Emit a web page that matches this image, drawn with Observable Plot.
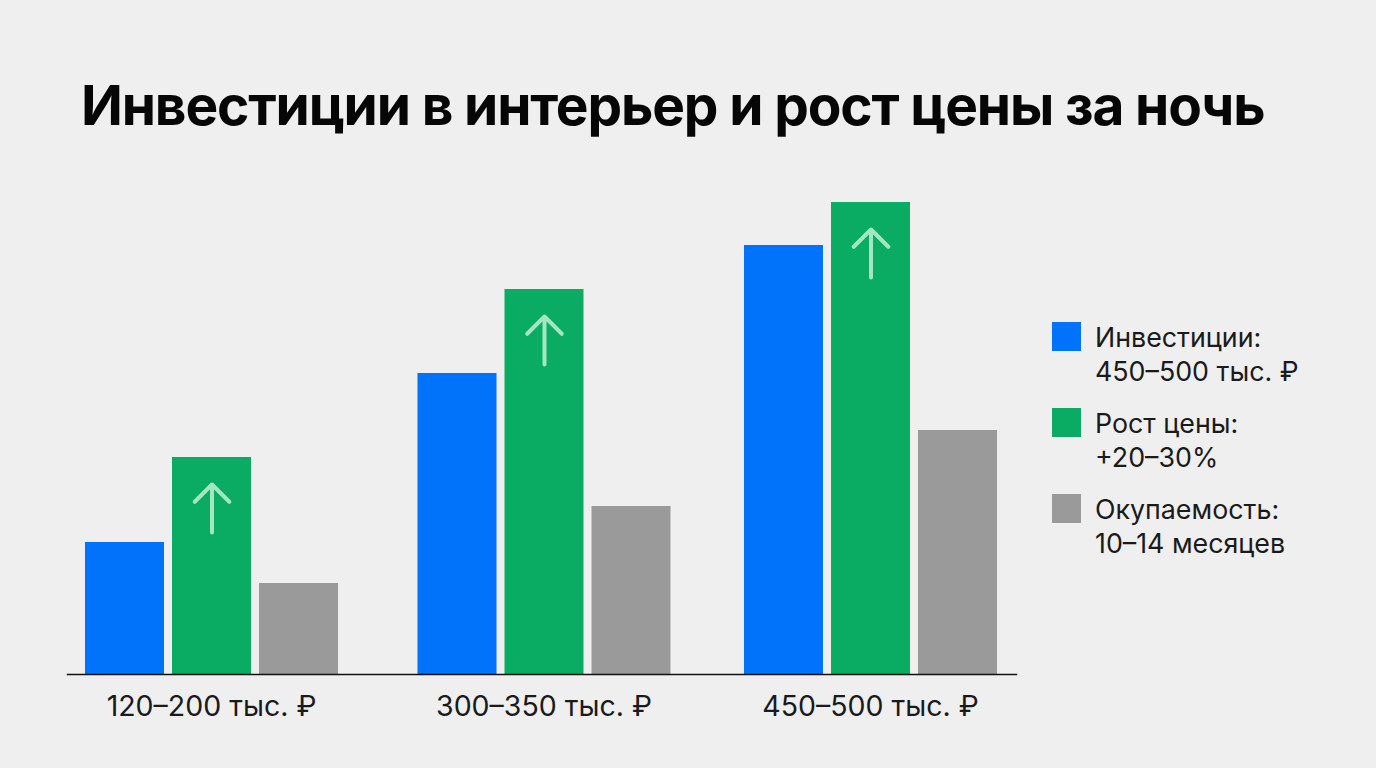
<!DOCTYPE html>
<html lang="ru">
<head>
<meta charset="utf-8">
<title>Инвестиции в интерьер и рост цены за ночь</title>
<script src="https://cdn.jsdelivr.net/npm/d3@7"></script>
<script src="https://cdn.jsdelivr.net/npm/@observablehq/plot@0.6"></script>
<style>
  html, body { margin: 0; padding: 0; background: #efefef; width: 1376px; height: 768px; overflow: hidden; }
  body { font-family: Inter, sans-serif; color: #111; position: relative; }
  h1 { margin: 0; position: absolute; left: 81px; top: 71px; font-size: 55px; line-height: 68px; font-weight: 700; letter-spacing: -1.15px; color: #060606; white-space: nowrap; }
  #chart { position: absolute; left: 0; top: 170px; }
  #chart svg { display: block; background: transparent; }
  #legend { position: absolute; left: 1052px; top: 320px; }
  .item { display: flex; height: 86px; }
  .swatch { width: 29px; height: 29px; margin-top: 2px; flex: none; }
  .label { margin-left: 14px; font-size: 26.8px; line-height: 34px; color: #1a1a1a; white-space: pre-line; }
</style>
</head>
<body>
<h1>Инвестиции в интерьер и рост цены за ночь</h1>
<div id="chart"></div>
<div id="legend"></div>
<script>
const groups = ["120–200 тыс. ₽", "300–350 тыс. ₽", "450–500 тыс. ₽"];
const seriesNames = ["Инвестиции", "Рост цены", "Окупаемость"];
const colors = ["#0073fb", "#0aab63", "#9a9a9a"];
const investments = [132, 301, 429];
const growth = [217, 385, 472];
const payback = [91, 168, 244];
const legendLabels = ["Инвестиции:\n450–500 тыс. ₽", "Рост цены:\n+20–30%", "Окупаемость:\n10–14 месяцев"];

const rows = groups.flatMap((group, i) => [
  {group, series: seriesNames[0], value: investments[i]},
  {group, series: seriesNames[1], value: growth[i]},
  {group, series: seriesNames[2], value: payback[i]}
]);
const groupNudge = [-2, 1.5, -1];

const marks = groups.flatMap((group, i) => {
  const data = rows.filter(d => d.group === group);
  return [
    Plot.barY(data, {fx: "group", x: "series", y: "value", fill: "series", dx: groupNudge[i]}),
    Plot.vector(data.filter(d => d.series === seriesNames[1]), {
      fx: "group", x: "series", y: "value", anchor: "end", length: 48, r: 6.3, rotate: 0,
      dy: 27, dx: groupNudge[i], stroke: "#a3e6c2", strokeWidth: 4
    }),
    Plot.axisFx({ticks: [group], anchor: "bottom", label: null, tickSize: 0, tickPadding: 21, dx: groupNudge[i],
      fontSize: 28.5, fill: "#1a1a1a", fontFamily: "Inter, sans-serif"})
  ];
});

const chart = Plot.plot({
  width: 1030,
  height: 598,
  marginLeft: 85,
  marginRight: 32,
  marginTop: 0,
  marginBottom: 94,
  style: {background: "transparent", overflow: "visible"},
  fx: {domain: groups, paddingInner: 0.229, paddingOuter: 0, axis: null, label: null},
  x: {domain: seriesNames, paddingInner: 0.097, paddingOuter: 0, axis: null, label: null},
  y: {domain: [0, 504], axis: null, label: null},
  color: {domain: seriesNames, range: colors},
  marks: [
    ...marks,
    Plot.frame({anchor: "bottom", facet: "super", stroke: "#111", strokeWidth: 1.5, insetLeft: -19, insetRight: -18})
  ]
});
document.getElementById("chart").append(chart);

const legend = d3.select("#legend").selectAll(".item").data(legendLabels).join("div").attr("class", "item");
legend.append("div").attr("class", "swatch").style("background", (d, i) => colors[i]);
legend.append("div").attr("class", "label").text(d => d);
</script>
</body>
</html>
